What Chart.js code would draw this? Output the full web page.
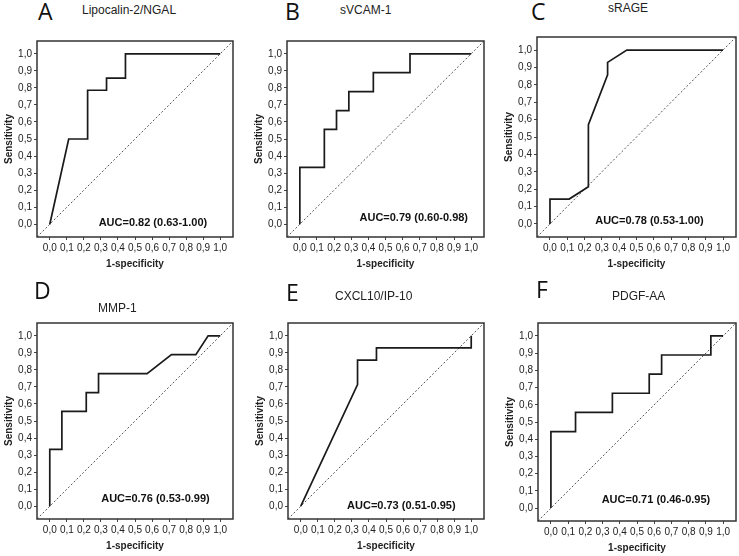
<!DOCTYPE html>
<html>
<head>
<meta charset="utf-8">
<script src="https://cdn.jsdelivr.net/npm/chart.js@4"></script>
<style>
  body { margin: 0; background: #fff; width: 739px; height: 556px; position: relative; overflow: hidden; font-family: "Liberation Sans", Arial, sans-serif; }
  canvas { position: absolute; }
  .letter { position: absolute; font-family: "Open Sans", "Liberation Sans", sans-serif; font-size: 23px; line-height: 23px; color: #111; }
  .title { position: absolute; font-size: 12px; line-height: 12px; color: #222; white-space: nowrap; }
</style>
</head>
<body>
<script>
const tickValues = [0, 0.1, 0.2, 0.3, 0.4, 0.5, 0.6, 0.7, 0.8, 0.9, 1.0];
const panelLetters = ["A", "B", "C", "D", "E", "F"];
const panelTitles = ["Lipocalin-2/NGAL", "sVCAM-1", "sRAGE", "MMP-1", "CXCL10/IP-10", "PDGF-AA"];
const aucTexts = ["AUC=0.82 (0.63-1.00)", "AUC=0.79 (0.60-0.98)", "AUC=0.78 (0.53-1.00)",
                  "AUC=0.76 (0.53-0.99)", "AUC=0.73 (0.51-0.95)", "AUC=0.71 (0.46-0.95)"];

// 1-specificity / sensitivity for each curve
const fprA = [0, 0.111, 0.222, 0.222, 0.333, 0.333, 0.444, 0.444, 1.0];
const tprA = [0, 0.5, 0.5, 0.786, 0.786, 0.857, 0.857, 1.0, 1.0];
const fprB = [0, 0, 0.143, 0.143, 0.214, 0.214, 0.286, 0.286, 0.429, 0.429, 0.643, 0.643, 1.0];
const tprB = [0, 0.333, 0.333, 0.556, 0.556, 0.667, 0.667, 0.778, 0.778, 0.889, 0.889, 1.0, 1.0];
const fprC = [0, 0, 0.111, 0.222, 0.222, 0.333, 0.333, 0.444, 1.0];
const tprC = [0, 0.143, 0.143, 0.214, 0.571, 0.857, 0.929, 1.0, 1.0];
const fprD = [0, 0, 0.071, 0.071, 0.214, 0.214, 0.286, 0.286, 0.571, 0.714, 0.857, 0.929, 1.0];
const tprD = [0, 0.333, 0.333, 0.556, 0.556, 0.667, 0.667, 0.778, 0.778, 0.889, 0.889, 1.0, 1.0];
const fprE = [0, 0.333, 0.333, 0.444, 0.444, 1.0, 1.0];
const tprE = [0, 0.714, 0.857, 0.857, 0.929, 0.929, 1.0];
const fprF = [0, 0, 0.143, 0.143, 0.357, 0.357, 0.571, 0.571, 0.643, 0.643, 0.929, 0.929, 1.0];
const tprF = [0, 0.444, 0.444, 0.556, 0.556, 0.667, 0.667, 0.778, 0.778, 0.889, 0.889, 1.0, 1.0];

const axisMin = -0.075, axisMax = 1.075;

// layout: plot box [left, top, right, bottom] in page pixels
const boxes = [[37, 39, 233, 237], [287, 39, 484, 237], [537, 35, 736, 237],
               [37, 321, 233, 519], [288, 321, 484, 519], [538, 321, 736, 521]];
const letterPos = [[38, 0], [285, 0], [531, 0], [34, 279], [286, 281], [536, 278]];
const titlePos = [[82, 4], [340, 4], [608, 2], [98, 302], [335, 290], [612, 290]];
const aucPos = [[0.605, 0.01], [0.665, 0.035], [0.575, 0.02], [0.62, 0.045], [0.59, 0.0], [0.61, 0.05]];

const fmt = v => v.toFixed(1).replace(".", ",");
const tickFont = { family: "'Liberation Sans', Arial, sans-serif", size: 10 };
const titleFont = { family: "'Liberation Sans', Arial, sans-serif", size: 10, weight: "bold" };

const boxPlugin = {
  id: "box",
  afterDraw(chart) {
    const a = chart.chartArea, ctx = chart.ctx;
    ctx.save();
    ctx.strokeStyle = "#333";
    ctx.lineWidth = 1.5;
    ctx.strokeRect(a.left, a.top, a.right - a.left, a.bottom - a.top);
    ctx.restore();
  }
};

const aucPlugin = {
  id: "auc",
  afterDatasetsDraw(chart, args, opts) {
    const ctx = chart.ctx;
    ctx.save();
    ctx.font = "bold 11px 'Liberation Sans', Arial, sans-serif";
    ctx.fillStyle = "#111";
    ctx.textAlign = "center";
    ctx.textBaseline = "middle";
    ctx.fillText(opts.text, chart.scales.x.getPixelForValue(opts.x), chart.scales.y.getPixelForValue(opts.y));
    ctx.restore();
  }
};

function axis(title, isX) {
  return {
    type: "linear",
    min: axisMin,
    max: axisMax,
    afterBuildTicks: s => { s.ticks = tickValues.map(v => ({ value: v })); },
    afterFit: s => { if (isX) s.height = 38; else s.width = 38; },
    grid: { drawOnChartArea: false, tickLength: 3, color: "#444" },
    border: { display: false },
    ticks: { padding: 2, font: tickFont, color: "#222", callback: v => fmt(v), maxRotation: 0, autoSkip: false },
    title: { display: true, text: title, font: titleFont, color: "#222", padding: isX ? { top: 0, bottom: 5 } : { top: 4, bottom: 0 } }
  };
}

function makePanel(i, fpr, tpr) {
  const [L, T, R, B] = boxes[i];
  const cv = document.createElement("canvas");
  const w = R - L + 40, h = B - T + 44;
  cv.width = w; cv.height = h;
  cv.style.left = (L - 38) + "px";
  cv.style.top = (T - 6) + "px";
  cv.style.width = w + "px"; cv.style.height = h + "px";
  document.body.appendChild(cv);

  const lt = document.createElement("div");
  lt.className = "letter";
  lt.textContent = panelLetters[i];
  lt.style.left = letterPos[i][0] + "px"; lt.style.top = letterPos[i][1] + "px";
  document.body.appendChild(lt);

  const tt = document.createElement("div");
  tt.className = "title";
  tt.textContent = panelTitles[i];
  tt.style.left = titlePos[i][0] + "px"; tt.style.top = titlePos[i][1] + "px";
  document.body.appendChild(tt);

  new Chart(cv, {
    type: "scatter",
    data: {
      datasets: [
        {
          data: fpr.map((x, k) => ({ x: x, y: tpr[k] })),
          showLine: true, borderColor: "#1a1a1a", borderWidth: 1.7, pointRadius: 0, fill: false
        },
        {
          data: [{ x: axisMin, y: axisMin }, { x: axisMax, y: axisMax }],
          showLine: true, borderColor: "#555", borderWidth: 1, borderDash: [2, 2], pointRadius: 0
        }
      ]
    },
    options: {
      responsive: false,
      animation: false,
      events: [],
      layout: { padding: { top: 6, right: 2, left: 0, bottom: 0 } },
      plugins: {
        legend: { display: false },
        tooltip: { enabled: false },
        auc: { text: aucTexts[i], x: aucPos[i][0], y: aucPos[i][1] }
      },
      scales: {
        x: axis("1-specificity", true),
        y: axis("Sensitivity", false)
      }
    },
    plugins: [boxPlugin, aucPlugin]
  });
}

makePanel(0, fprA, tprA);
makePanel(1, fprB, tprB);
makePanel(2, fprC, tprC);
makePanel(3, fprD, tprD);
makePanel(4, fprE, tprE);
makePanel(5, fprF, tprF);
</script>
</body>
</html>
